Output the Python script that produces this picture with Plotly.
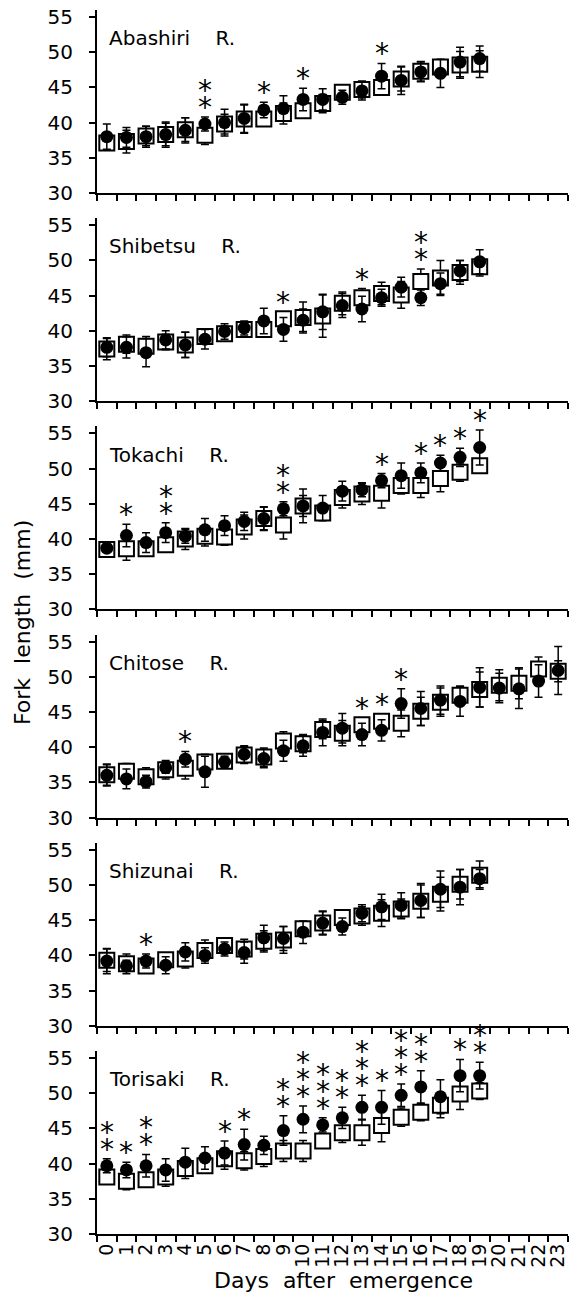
import plotly.graph_objects as go

days = list(range(24))
day_labels = [str(d) for d in days]
rivers = ["Abashiri", "Shibetsu", "Tokachi", "Chitose", "Shizunai", "Torisaki"]

# open squares
sq_mean = [
    [37.1, 37.3, 38.1, 38.3, 39.0, 38.2, 39.8, 40.5, 40.5, 41.3, 41.7, 42.7, 44.3, 44.7, 45.0, 46.2, 47.3, 47.9, 48.2, 48.3],
    [37.4, 38.1, 37.8, 38.4, 38.0, 39.2, 39.6, 40.2, 40.2, 41.7, 41.9, 42.1, 43.9, 44.7, 45.3, 45.1, 47.0, 47.5, 48.3, 49.1],
    [38.5, 38.6, 38.6, 39.2, 40.0, 40.4, 40.3, 41.7, 42.9, 42.0, 44.7, 43.7, 45.9, 46.4, 46.5, 47.6, 47.6, 48.6, 49.5, 50.4],
    [36.1, 36.6, 35.8, 36.8, 37.0, 37.9, 38.0, 38.9, 38.6, 40.9, 40.5, 42.5, 42.0, 43.2, 43.7, 43.4, 45.1, 46.4, 47.4, 48.2, 48.8, 49.1, 51.1, 50.8],
    [39.3, 38.8, 38.5, 39.4, 39.5, 40.7, 41.4, 40.9, 42.0, 42.2, 43.8, 44.6, 45.4, 45.6, 46.0, 46.6, 47.7, 48.7, 50.1, 51.4],
    [38.1, 37.5, 37.7, 38.1, 39.3, 39.7, 40.7, 40.4, 41.0, 41.8, 41.8, 43.2, 44.4, 44.4, 45.4, 46.6, 47.3, 48.3, 49.9, 50.3],
]
sq_err = [
    [1.0, 1.6, 1.4, 1.6, 1.7, 1.3, 1.4, 2.0, 1.0, 1.5, 1.0, 1.3, 1.0, 1.2, 1.0, 1.7, 1.4, 1.0, 1.9, 1.9],
    [1.5, 1.3, 1.4, 1.1, 1.8, 1.0, 1.1, 1.0, 1.0, 1.0, 2.2, 3.0, 1.6, 1.3, 1.6, 1.9, 1.8, 2.5, 1.7, 1.3],
    [0.5, 1.6, 1.0, 1.0, 1.5, 1.4, 1.2, 1.7, 1.6, 2.0, 2.4, 1.0, 1.5, 1.5, 2.1, 1.2, 1.7, 1.9, 1.3, 1.0],
    [1.5, 1.1, 1.3, 1.3, 1.5, 1.1, 0.8, 1.2, 1.3, 1.3, 1.3, 1.3, 1.8, 1.0, 1.0, 1.9, 2.0, 2.0, 1.3, 2.5, 2.2, 2.2, 1.7, 1.5],
    [1.6, 1.4, 0.8, 0.8, 1.3, 1.5, 0.8, 1.4, 1.5, 1.9, 0.8, 1.7, 1.0, 1.3, 1.9, 1.4, 2.3, 2.4, 2.1, 2.0],
    [0.8, 1.2, 0.8, 1.3, 1.4, 0.8, 1.5, 1.3, 1.4, 1.5, 1.5, 0.8, 1.4, 1.8, 2.3, 1.3, 1.2, 1.8, 2.2, 1.2],
]
# filled circles
ci_mean = [
    [38.0, 37.9, 38.0, 38.3, 38.9, 39.8, 40.0, 40.6, 41.8, 42.0, 43.3, 43.3, 43.6, 44.5, 46.6, 46.0, 47.2, 47.0, 48.6, 49.1],
    [37.65, 37.65, 36.9, 38.7, 38.0, 38.8, 39.9, 40.4, 41.4, 40.2, 41.5, 42.7, 43.6, 43.1, 44.7, 46.2, 44.7, 46.7, 48.5, 49.8],
    [38.7, 40.5, 39.5, 40.9, 40.4, 41.3, 41.9, 42.5, 42.9, 44.3, 44.7, 44.4, 46.8, 47.0, 48.3, 49.0, 49.4, 50.8, 51.6, 53.0],
    [36.0, 35.5, 35.1, 37.1, 38.3, 36.5, 37.9, 39.0, 38.4, 39.5, 40.2, 42.1, 42.7, 41.8, 42.4, 46.2, 45.5, 46.7, 46.5, 48.5, 48.4, 48.3, 49.4, 50.9],
    [39.2, 38.5, 39.2, 38.6, 40.5, 40.0, 40.9, 40.4, 42.5, 42.4, 43.3, 44.6, 44.1, 46.0, 46.9, 47.1, 47.8, 49.4, 49.7, 50.9],
    [39.7, 39.1, 39.7, 39.1, 40.2, 40.8, 41.5, 42.7, 42.6, 44.7, 46.3, 45.5, 46.5, 48.0, 48.0, 49.7, 50.9, 49.5, 52.5, 52.5],
]
ci_err = [
    [1.8, 1.4, 1.5, 1.8, 1.8, 1.0, 1.9, 2.0, 1.1, 1.8, 1.6, 1.5, 1.0, 1.3, 1.8, 2.0, 1.4, 2.0, 2.1, 1.8],
    [1.35, 1.5, 2.0, 1.3, 1.8, 1.4, 1.1, 1.0, 1.8, 1.7, 1.6, 2.5, 1.7, 1.8, 1.2, 1.4, 1.1, 1.5, 1.5, 1.7],
    [0.5, 1.6, 1.4, 1.4, 1.0, 1.6, 1.4, 1.3, 1.7, 1.0, 1.5, 1.8, 1.4, 1.0, 1.0, 1.8, 1.4, 1.1, 1.3, 2.5],
    [1.5, 1.4, 0.9, 0.8, 1.1, 2.2, 0.8, 1.2, 1.3, 1.5, 1.5, 1.9, 2.1, 1.6, 1.5, 2.1, 2.4, 2.0, 2.1, 2.8, 2.1, 2.8, 2.3, 3.4],
    [1.8, 0.8, 1.0, 1.2, 1.3, 1.1, 1.0, 1.5, 1.8, 1.7, 1.6, 1.6, 1.2, 1.2, 1.8, 1.8, 2.4, 2.6, 2.5, 1.3],
    [1.0, 1.1, 1.6, 1.6, 2.0, 1.6, 1.7, 2.2, 1.3, 2.1, 1.9, 1.0, 1.5, 1.7, 2.4, 1.6, 2.3, 2.4, 2.3, 1.9],
]
# number of asterisks per day
stars = [
    {5: 2, 8: 1, 10: 1, 14: 1},
    {9: 1, 13: 1, 16: 2},
    {1: 1, 3: 2, 9: 2, 14: 1, 16: 1, 17: 1, 18: 1, 19: 1},
    {4: 1, 13: 1, 14: 1, 15: 1},
    {2: 1},
    {0: 2, 1: 1, 2: 2, 6: 1, 7: 1, 9: 2, 10: 3, 11: 3, 12: 2, 13: 3, 14: 1, 15: 3, 16: 2, 18: 1, 19: 2},
]

FONT = "DejaVu Sans"
W, H = 569, 1308
mt, mb, ml, mr = 10, 74, 97, 1
ph = H - mt - mb
pw = W - ml - mr
panel_h = 183.0
step = 208.2

fig = go.Figure()
layout = dict(
    width=W, height=H, margin=dict(l=ml, r=mr, t=mt, b=mb, autoexpand=False),
    paper_bgcolor="white", plot_bgcolor="white", showlegend=False,
    font=dict(family=FONT, color="black", size=18),
)
annotations = []
for p, name in enumerate(rivers):
    ax = "" if p == 0 else str(p + 1)
    top = p * step
    dom = [1 - (top + panel_h) / ph, 1 - top / ph]
    n = len(sq_mean[p])
    x = days[:n]
    fig.add_trace(go.Scatter(
        x=x, y=sq_mean[p], mode="markers", xaxis="x" + ax, yaxis="y" + ax,
        marker=dict(symbol="square", size=15, color="white", line=dict(color="black", width=2)),
        error_y=dict(type="data", array=sq_err[p], symmetric=True, color="black", thickness=1.5, width=4),
    ))
    fig.add_trace(go.Scatter(
        x=x, y=ci_mean[p], mode="markers", xaxis="x" + ax, yaxis="y" + ax,
        marker=dict(symbol="circle", size=13, color="black", line=dict(width=0)),
        error_y=dict(type="data", array=ci_err[p], symmetric=True, color="black", thickness=1.5, width=4),
    ))
    last = p == len(rivers) - 1
    layout["xaxis" + ax] = dict(
        domain=[0, 1], anchor="y" + ax, range=[-0.5, 23.5], automargin=False,
        tickmode="array", tickvals=days, ticktext=day_labels, ticks="",
        showticklabels=last, tickangle=-90, tickfont=dict(size=19, family=FONT),
        showline=True, linecolor="black", linewidth=2, showgrid=False, zeroline=False,
        minor=dict(tickmode="array", tickvals=[d - 0.5 for d in days] + [23.5],
                   ticks="outside", ticklen=6, tickwidth=1.5, tickcolor="black", showgrid=False),
    )
    layout["yaxis" + ax] = dict(
        domain=dom, anchor="x" + ax, range=[30, 56], automargin=False,
        tickmode="array", tickvals=[30, 35, 40, 45, 50, 55],
        ticks="outside", ticklen=6, tickwidth=1.5, tickcolor="black",
        tickfont=dict(size=20, family=FONT), ticklabelstandoff=12,
        showline=True, linecolor="black", linewidth=2, showgrid=False, zeroline=False,
    )
    annotations.append(dict(
        x=0.022, xref="paper", y=52, yref="y" + ax, xanchor="left", yanchor="middle",
        text=name + "\u00a0\u00a0\u00a0\u00a0R.", showarrow=False, font=dict(size=20, family=FONT),
    ))
    for d, cnt in stars[p].items():
        base = max(sq_mean[p][d] + sq_err[p][d], ci_mean[p][d] + ci_err[p][d])
        for k in range(cnt):
            annotations.append(dict(
                x=d, xref="x" + ax, y=base, yref="y" + ax, xanchor="center", yanchor="bottom",
                text="*", showarrow=False, font=dict(size=28, family=FONT),
                yshift=-9 + 17 * k,
            ))

annotations.append(dict(
    x=(343 - ml) / pw, xref="paper", y=-(1280 - (H - mb)) / ph, yref="paper",
    xanchor="center", yanchor="middle", showarrow=False,
    text="Days\u00a0\u00a0after\u00a0\u00a0emergence", font=dict(size=22, family=FONT),
))
annotations.append(dict(
    x=(22 - ml) / pw, xref="paper", y=1 - (623 - mt) / ph, yref="paper",
    xanchor="center", yanchor="middle", showarrow=False, textangle=-90,
    text="Fork\u00a0\u00a0length\u00a0\u00a0(mm)", font=dict(size=22, family=FONT),
))
layout["annotations"] = annotations
fig.update_layout(**layout)
fig.write_html(
    "out.html",
    config={"displayModeBar": False},
    post_script="document.body.style.margin='0';document.body.style.overflow='hidden';",
)
